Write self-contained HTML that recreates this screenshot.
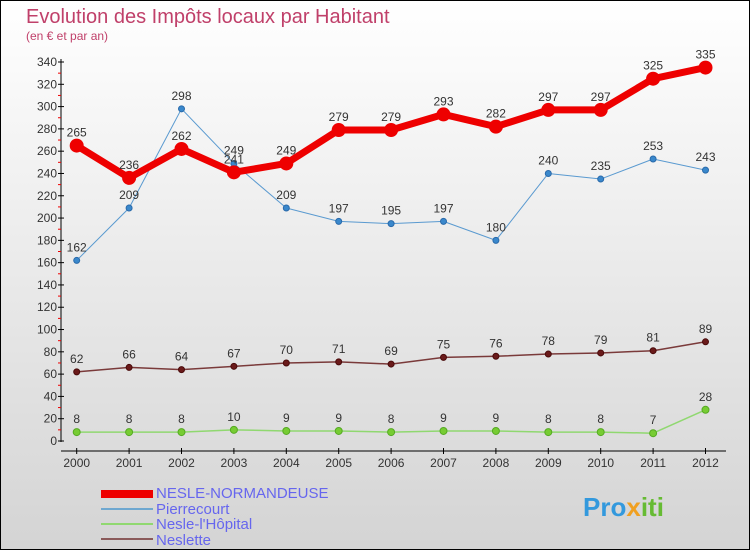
<!DOCTYPE html>
<html><head><meta charset="utf-8"><style>
body{margin:0}
#c{width:748px;height:548px;border:1px solid #000;background:linear-gradient(#fff,#d4d4d4);position:relative;font-family:"Liberation Sans",sans-serif}
</style></head><body>
<div id="c">
<svg id="s" width="748" height="548">
<text x="25" y="22" font-size="20" fill="#c0406a">Evolution des Impôts locaux par Habitant</text>
<text x="25" y="39" font-size="12" fill="#c0406a">(en € et par an)</text>
<text x="155" y="497" font-size="15" fill="#6666ee">NESLE-NORMANDEUSE</text>
<text x="155" y="513" font-size="15" fill="#6666ee">Pierrecourt</text>
<text x="155" y="528" font-size="15" fill="#6666ee">Nesle-l'Hôpital</text>
<text x="155" y="544" font-size="15" fill="#6666ee">Neslette</text>
<rect x="100" y="489" width="52" height="8" fill="#e00"/>
<rect x="100" y="507" width="52" height="2" fill="#6fa8d0"/>
<rect x="100" y="522" width="52" height="2" fill="#90d870"/>
<rect x="100" y="537" width="52" height="2" fill="#8a5a5a"/>
<text x="582" y="515" font-size="26" font-weight="bold" fill="#3399dd">Pro<tspan fill="#f0a020">x</tspan><tspan fill="#66bb33">iti</tspan></text>
</svg>
</div>
<script>
const years=["2000","2001","2002","2003","2004","2005","2006","2007","2008","2009","2010","2011","2012"];
const yTicks=[0,20,40,60,80,100,120,140,160,180,200,220,240,260,280,300,320,340];
const nesleNormandeuse=[265,236,262,241,249,279,279,293,282,297,297,325,335];
const pierrecourt=[162,209,298,249,209,197,195,197,180,240,235,253,243];
const nesleLhopital=[8,8,8,10,9,9,8,9,9,8,8,7,28];
const neslette=[62,66,64,67,70,71,69,75,76,78,79,81,89];
const s=document.getElementById('s');const NS='http://www.w3.org/2000/svg';
const X=i=>75.7+i*52.4, Y=v=>440-v*379/340;
function mk(t,a,p){const e=document.createElementNS(NS,t);for(const k in a)e.setAttribute(k,a[k]);(p||s).appendChild(e);return e;}
let e=mk('line',{x1:60,y1:58,x2:60,y2:441,stroke:'#000'});


e=mk('line',{x1:60,y1:450,x2:725,y2:450,stroke:'#000'});


yTicks.forEach((v,i)=>{mk('line',{x1:57,x2:63,y1:Y(v),y2:Y(v),stroke:'#000'});
if(i<yTicks.length-1)mk('line',{x1:57,x2:60,y1:Y(v+10),y2:Y(v+10),stroke:'#e00'});
e=mk('text',{x:56,y:Y(v)+4,'font-size':12,'text-anchor':'end',fill:'#333'});e.textContent=v;

});
years.forEach((y,i)=>{mk('line',{x1:X(i),x2:X(i),y1:447,y2:453,stroke:'#000'});
e=mk('text',{x:X(i),y:466,'font-size':12,'text-anchor':'middle',fill:'#333'});e.textContent=y;

});
function series(d,name,col,w,r,fill,stroke){
const g=mk('g',{});


mk('polyline',{points:d.map((v,i)=>X(i)+','+Y(v)).join(' '),fill:'none',stroke:col,'stroke-width':w,'stroke-linejoin':'round'},g);
d.forEach((v,i)=>{const c=mk('circle',{cx:X(i),cy:Y(v),r:r,fill:fill,stroke:stroke,'stroke-width':1},g);


const t=mk('text',{x:X(i),y:Y(v)-9,'font-size':12,'text-anchor':'middle',fill:'#333'},g);t.textContent=v;

});}
series(neslette,'neslette','#7a3a3a',1.5,3,'#6a1a1a','#4a0a0a');
series(nesleLhopital,'nesle-lhopital','#90d870',1.5,3.5,'#7c3','#5a2');
series(pierrecourt,'pierrecourt','#5a9ad0',1,3,'#3a88cc','#2a6aaa');
series(nesleNormandeuse,'nesle-normandeuse','#e00',7,6.5,'#e00','#e00');
</script>
</body></html>
